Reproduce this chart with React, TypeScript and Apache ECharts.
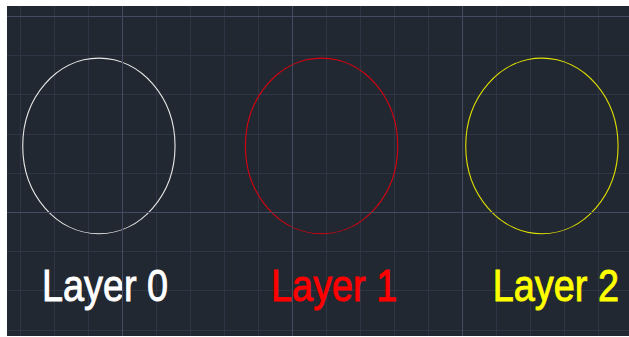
import React, { useEffect, useRef } from "react";
import * as echarts from "echarts";

// Layers (name, colour) and circle geometry in drawing-grid units
const layerNames = ["Layer 0", "Layer 1", "Layer 2"];
const layerColors = ["#ffffff", "#ff0000", "#ffff00"];
const circleStroke = ["#e8e8e8", "#d80010", "#e0e000"];
const circleX = [2.32, 8.87, 15.35];
const circleY = [3.31, 3.31, 3.31];
const circleR = [2.24, 2.24, 2.24];
const labelX = [2.5, 9.24, 15.76];
const labelY = [6.875, 6.875, 6.875];
// major grid lines (every 5th line)
const majorX = [3, 8, 13];
const majorY = [0, 5];

export default function App() {
  const ref = useRef<HTMLDivElement>(null);
  useEffect(() => {
    if (!ref.current) return;
    const chart = echarts.init(ref.current, undefined, { renderer: "svg" });
    const circleData = circleX.map((x, i) => [x, circleY[i], circleR[i], i]);
    const labelData = labelX.map((x, i) => [x, labelY[i], i]);
    chart.setOption({
      animation: false,
      backgroundColor: "#222831",
      grid: { left: 0, top: 0, right: 0, bottom: 0, show: false },
      xAxis: {
        type: "value",
        min: -1,
        max: 19,
        interval: 1,
        axisLine: { show: false },
        axisTick: { show: false },
        axisLabel: { show: false },
        splitLine: { show: true, lineStyle: { color: "#2f3544", width: 1 } },
      },
      yAxis: {
        type: "value",
        min: -1,
        max: 9,
        interval: 1,
        inverse: true,
        axisLine: { show: false },
        axisTick: { show: false },
        axisLabel: { show: false },
        splitLine: { show: true, lineStyle: { color: "#2f3544", width: 1 } },
      },
      series: [
        {
          type: "line",
          data: [],
          z: 1,
          silent: true,
          markLine: {
            silent: true,
            symbol: "none",
            label: { show: false },
            lineStyle: { color: "#444b62", width: 1, type: "solid" },
            data: [
              ...majorX.map((v) => ({ xAxis: v })),
              ...majorY.map((v) => ({ yAxis: v })),
            ],
          },
        },
        {
          type: "custom",
          z: 3,
          silent: true,
          data: circleData,
          renderItem: (params: any, api: any) => {
            const c = api.coord([api.value(0), api.value(1)]);
            const s = api.size([api.value(2), api.value(2)]);
            const idx = api.value(3);
            return {
              type: "ellipse",
              shape: { cx: c[0], cy: c[1], rx: Math.abs(s[0]), ry: Math.abs(s[1]) },
              style: { fill: "none", stroke: circleStroke[idx], lineWidth: 1.1 },
            };
          },
        },
        {
          type: "custom",
          z: 4,
          silent: true,
          data: labelData,
          renderItem: (params: any, api: any) => {
            const c = api.coord([api.value(0), api.value(1)]);
            const idx = api.value(2);
            return {
              type: "text",
              x: c[0],
              y: c[1],
              scaleX: 0.86,
              style: {
                text: layerNames[idx],
                x: 0,
                y: 0,
                fill: layerColors[idx],
                stroke: layerColors[idx],
                lineWidth: 0.9,
                font: '44px "Liberation Sans", Arial, sans-serif',
                align: "center",
                verticalAlign: "middle",
              },
            };
          },
        },
      ],
    });
    return () => chart.dispose();
  }, []);
  return (
    <div
      style={{
        position: "fixed",
        left: 7,
        top: 6,
        width: 622,
        height: 330,
        overflow: "hidden",
        background: "#222831",
      }}
    >
      <div
        ref={ref}
        style={{ position: "absolute", left: -21, top: -29.2, width: 680, height: 392 }}
      />
    </div>
  );
}
